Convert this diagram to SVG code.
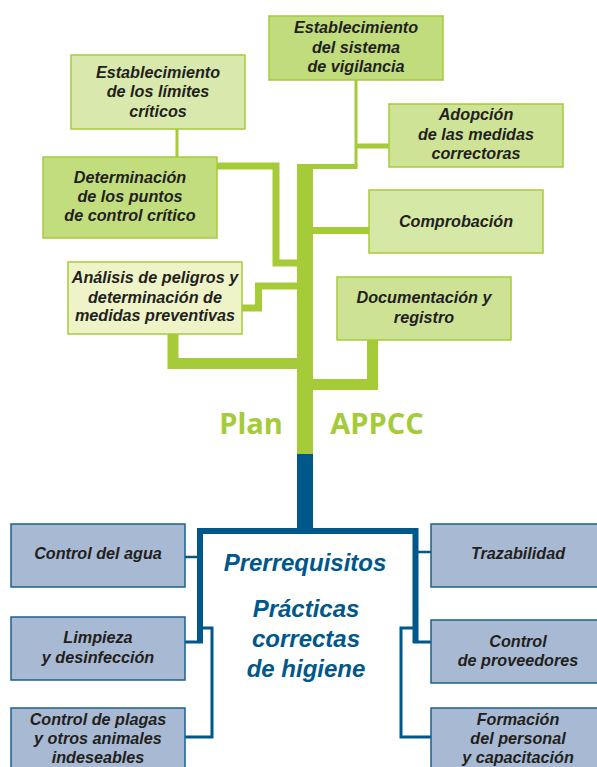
<svg xmlns="http://www.w3.org/2000/svg" width="597" height="767" viewBox="0 0 597 767">
<style>
.g{stroke:#a5cb39;stroke-width:1.5}
.b{fill:#a8bad3;stroke:#1d5f8e;stroke-width:1.5}
.t{font-family:"Liberation Sans",Arial,sans-serif;font-weight:bold;font-style:italic;font-size:16.2px;fill:#231f20;text-anchor:middle}
.gc{fill:none;stroke:#a5cb39;stroke-linejoin:miter;stroke-linecap:butt}
.bc{fill:none;stroke:#00578a;stroke-linejoin:miter;stroke-linecap:butt}
.big{font-family:"Open Sans","Liberation Sans",sans-serif;font-weight:bold;font-size:29px;fill:#a5cb39;text-anchor:middle}
.bt{font-family:"Liberation Sans",Arial,sans-serif;font-weight:bold;font-style:italic;font-size:24px;fill:#00578a;text-anchor:middle}
</style>
<rect width="597" height="767" fill="#fff"/>
<g id="connectors">
<line class="gc" x1="305" y1="164" x2="305" y2="454" stroke-width="16"/>
<line class="bc" x1="305" y1="454" x2="305" y2="531" stroke-width="16"/>
<path class="gc" d="M356,80 V166.5" stroke-width="3"/>
<path class="gc" d="M357.5,166.5 H313" stroke-width="5"/>
<path class="gc" d="M356,146 H389" stroke-width="5"/>
<path class="gc" d="M313,230.5 H369" stroke-width="7"/>
<path class="gc" d="M177,129 V157" stroke-width="3"/>
<path class="gc" d="M217,166 H276 V263 H297" stroke-width="7"/>
<path class="gc" d="M242,308 H258.5 V286 H297" stroke-width="7"/>
<path class="gc" d="M173,334 V363.5 H297" stroke-width="11"/>
<path class="gc" d="M372.5,340 V384.5 H313" stroke-width="11"/>
<path class="bc" d="M200,643 V531 H415.5 V643" stroke-width="6"/>
<path class="bc" d="M185,557 H200" stroke-width="2.5"/>
<path class="bc" d="M185,642 H203" stroke-width="3"/>
<path class="bc" d="M200,628 H212 V737 H185" stroke-width="3"/>
<path class="bc" d="M415,552 H431" stroke-width="2.5"/>
<path class="bc" d="M413,642 H431" stroke-width="3"/>
<path class="bc" d="M415,628 H401 V737 H431" stroke-width="3"/>
</g>
<g id="vigilancia">
<rect class="g" x="269" y="16" width="174" height="64" fill="#c0dc7c"/>
<text class="t" x="356" y="33">Establecimiento</text>
<text class="t" x="356" y="52.5">del sistema</text>
<text class="t" x="356" y="72">de vigilancia</text>
</g>
<g id="adopcion">
<rect class="g" x="389" y="104" width="174" height="63" fill="#cfe396"/>
<text class="t" x="476" y="120">Adopción</text>
<text class="t" x="476" y="139.5">de las medidas</text>
<text class="t" x="476" y="159">correctoras</text>
</g>
<g id="comprobacion">
<rect class="g" x="369" y="190" width="174" height="63" fill="#d6e8a6"/>
<text class="t" x="456" y="227">Comprobación</text>
</g>
<g id="limites">
<rect class="g" x="71" y="55" width="174" height="74" fill="#d9e9ae"/>
<text class="t" x="158" y="78">Establecimiento</text>
<text class="t" x="158" y="97">de los límites</text>
<text class="t" x="158" y="117">críticos</text>
</g>
<g id="determinacion">
<rect class="g" x="43" y="157" width="174" height="81" fill="#c2dd7e"/>
<text class="t" x="130" y="183">Determinación</text>
<text class="t" x="130" y="202">de los puntos</text>
<text class="t" x="130" y="221">de control crítico</text>
</g>
<g id="analisis">
<rect class="g" x="68" y="262" width="174" height="72" fill="#eff4c8"/>
<text class="t" x="155" y="283">Análisis de peligros y</text>
<text class="t" x="155" y="302.5">determinación de</text>
<text class="t" x="155" y="321">medidas preventivas</text>
</g>
<g id="documentacion">
<rect class="g" x="337" y="277" width="174" height="63" fill="#cde295"/>
<text class="t" x="424" y="303">Documentación y</text>
<text class="t" x="424" y="323">registro</text>
</g>
<g id="plan-appcc">
<text class="big" x="251" y="434">Plan</text>
<text class="big" x="377" y="434">APPCC</text>
</g>
<g id="prerrequisitos">
<text class="bt" x="305" y="571">Prerrequisitos</text>
<text class="bt" x="306" y="617">Prácticas</text>
<text class="bt" x="306" y="647">correctas</text>
<text class="bt" x="306" y="677">de higiene</text>
</g>
<g id="agua">
<rect class="b" x="11" y="524" width="174" height="63"/>
<text class="t" x="98" y="559">Control del agua</text>
</g>
<g id="limpieza">
<rect class="b" x="11" y="617" width="174" height="63"/>
<text class="t" x="98" y="643">Limpieza</text>
<text class="t" x="98" y="663">y desinfección</text>
</g>
<g id="plagas">
<rect class="b" x="11" y="708" width="174" height="70"/>
<text class="t" x="98" y="725">Control de plagas</text>
<text class="t" x="98" y="744">y otros animales</text>
<text class="t" x="98" y="763">indeseables</text>
</g>
<g id="trazabilidad">
<rect class="b" x="431" y="524" width="180" height="63"/>
<text class="t" x="518" y="559">Trazabilidad</text>
</g>
<g id="proveedores">
<rect class="b" x="431" y="620" width="180" height="63"/>
<text class="t" x="518" y="647">Control</text>
<text class="t" x="518" y="666">de proveedores</text>
</g>
<g id="formacion">
<rect class="b" x="431" y="708" width="180" height="70"/>
<text class="t" x="518" y="725">Formación</text>
<text class="t" x="518" y="744">del personal</text>
<text class="t" x="518" y="763">y capacitación</text>
</g>
</svg>
